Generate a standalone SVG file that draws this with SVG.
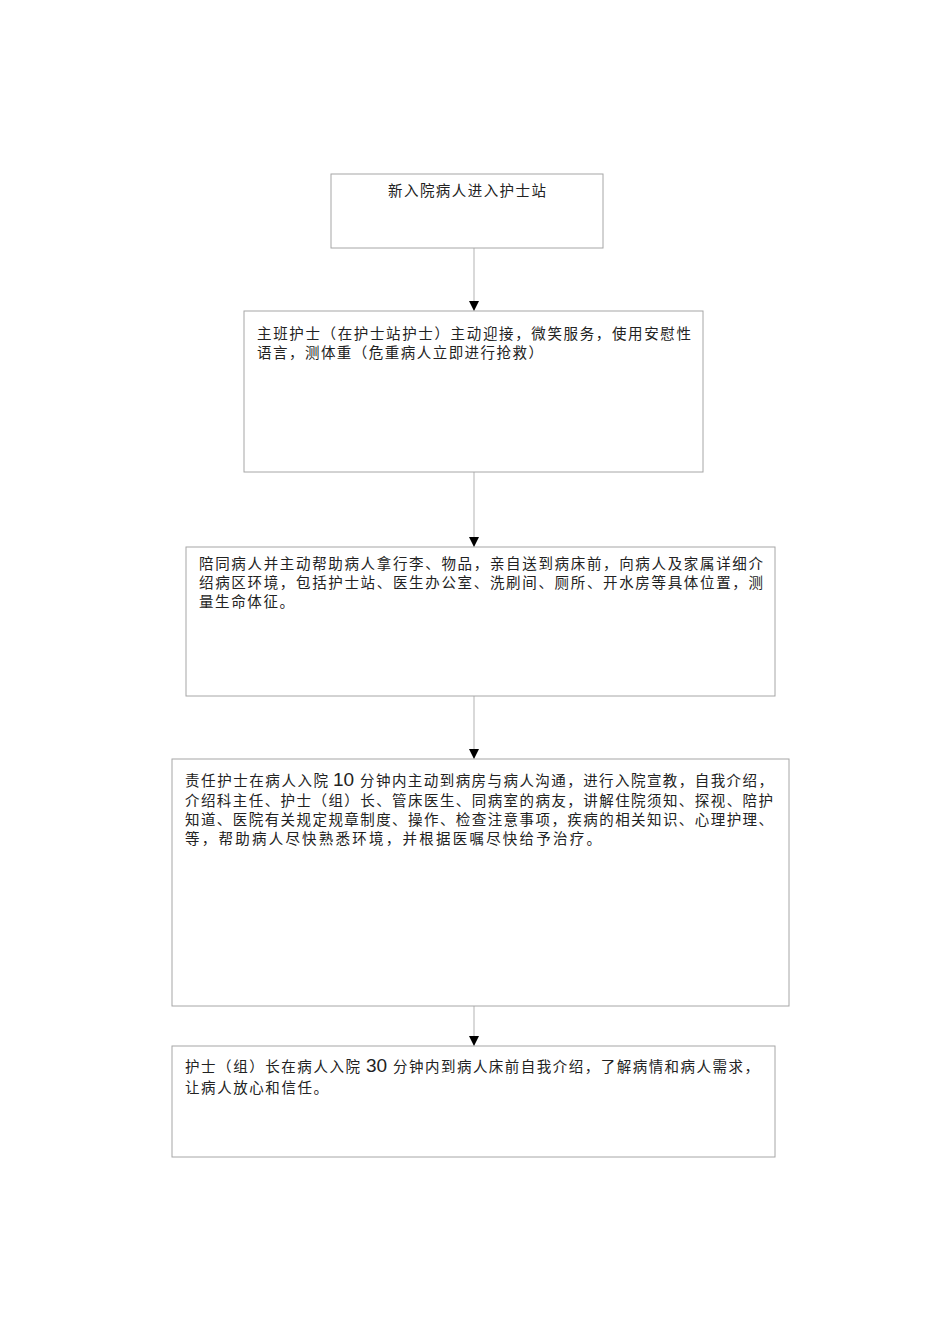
<svg xmlns="http://www.w3.org/2000/svg" width="950" height="1344" viewBox="0 0 950 1344">
<style>
.box{fill:#fff;stroke:#a6a6a6;stroke-width:1}
.t{font-family:"Noto Sans CJK SC",sans-serif;font-size:14.5px;fill:#222}
.n{font-family:"Liberation Sans",sans-serif;font-size:19px;fill:#222}
.c{stroke:#c0c0c0;stroke-width:1.2;fill:none}
</style>
<defs>
<marker id="ah" viewBox="0 0 10 10" refX="10" refY="5" markerWidth="10" markerHeight="10" markerUnits="userSpaceOnUse" orient="auto">
<path d="M0,0 L10,5 L0,10 Z" fill="#000"/>
</marker>
</defs>
<rect width="950" height="1344" fill="#fff"/>
<g id="connectors">
<line class="c" x1="474" y1="248" x2="474" y2="311" marker-end="url(#ah)"/>
<line class="c" x1="474" y1="472" x2="474" y2="547" marker-end="url(#ah)"/>
<line class="c" x1="474" y1="696" x2="474" y2="759" marker-end="url(#ah)"/>
<line class="c" x1="474" y1="1006" x2="474" y2="1046" marker-end="url(#ah)"/>
</g>
<g id="n1">
<rect class="box" x="331" y="174" width="272" height="74"/>
<text class="t" x="388" y="196" textLength="158" lengthAdjust="spacing">新入院病人进入护士站</text>
</g>
<g id="n2">
<rect class="box" x="244" y="311" width="459" height="161"/>
<text class="t" x="257" y="339" textLength="434" lengthAdjust="spacing">主班护士（在护士站护士）主动迎接，微笑服务，使用安慰性</text>
<text class="t" x="257" y="358" textLength="286" lengthAdjust="spacing">语言，测体重（危重病人立即进行抢救）</text>
</g>
<g id="n3">
<rect class="box" x="186" y="547" width="589" height="149"/>
<text class="t" x="199" y="569" textLength="564" lengthAdjust="spacing">陪同病人并主动帮助病人拿行李、物品，亲自送到病床前，向病人及家属详细介</text>
<text class="t" x="199" y="588" textLength="564" lengthAdjust="spacing">绍病区环境，包括护士站、医生办公室、洗刷间、厕所、开水房等具体位置，测</text>
<text class="t" x="199" y="607" textLength="95" lengthAdjust="spacing">量生命体征。</text>
</g>
<g id="n4">
<rect class="box" x="172" y="759" width="617" height="247"/>
<text class="t" x="185" y="786" textLength="143" lengthAdjust="spacing">责任护士在病人入院</text>
<text class="n" x="333" y="786">10</text>
<text class="t" x="360" y="786" textLength="413" lengthAdjust="spacing">分钟内主动到病房与病人沟通，进行入院宣教，自我介绍，</text>
<text class="t" x="185" y="806" textLength="588" lengthAdjust="spacing">介绍科主任、护士（组）长、管床医生、同病室的病友，讲解住院须知、探视、陪护</text>
<text class="t" x="185" y="825" textLength="588" lengthAdjust="spacing">知道、医院有关规定规章制度、操作、检查注意事项，疾病的相关知识、心理护理、</text>
<text class="t" x="185" y="844" textLength="416" lengthAdjust="spacing">等，帮助病人尽快熟悉环境，并根据医嘱尽快给予治疗。</text>
</g>
<g id="n5">
<rect class="box" x="172" y="1046" width="603" height="111"/>
<text class="t" x="185" y="1072" textLength="175" lengthAdjust="spacing">护士（组）长在病人入院</text>
<text class="n" x="366" y="1072">30</text>
<text class="t" x="393" y="1072" textLength="366" lengthAdjust="spacing">分钟内到病人床前自我介绍，了解病情和病人需求，</text>
<text class="t" x="185" y="1093" textLength="143" lengthAdjust="spacing">让病人放心和信任。</text>
</g>
</svg>
